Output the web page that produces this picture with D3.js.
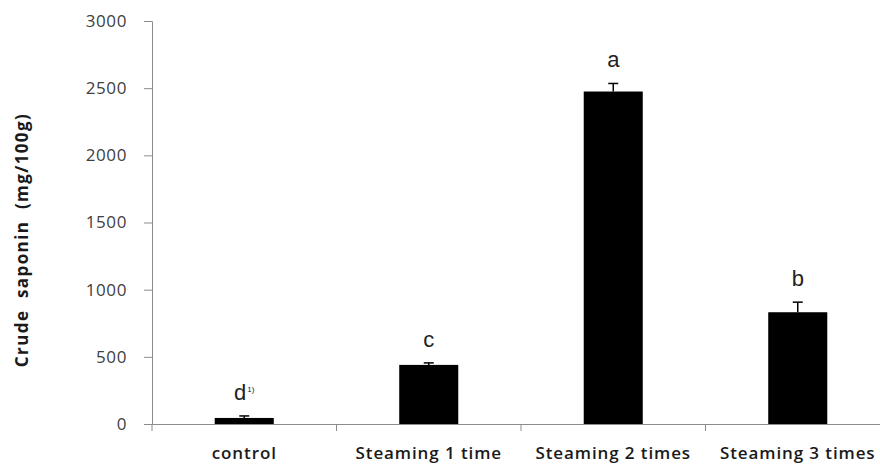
<!DOCTYPE html>
<html>
<head>
<meta charset="utf-8">
<script src="https://cdn.jsdelivr.net/npm/d3@7"></script>
<style>
  body { margin: 0; background: #fff; }
  svg { display: block; }
</style>
</head>
<body>
<div id="chart"></div>
<script>
var categories = ['control', 'Steaming 1 time', 'Steaming 2 times', 'Steaming 3 times'];
var means = [45, 440, 2475, 832];
var errors = [15, 15, 60, 75];
var letters = ['d', 'c', 'a', 'b'];
var yTicks = [0, 500, 1000, 1500, 2000, 2500, 3000];

var width = 880, height = 466;
var svg = d3.select('#chart').append('svg')
    .attr('width', width)
    .attr('height', height);

var x = d3.scaleBand()
    .domain(categories)
    .range([152, 890])
    .paddingInner(0.68)
    .paddingOuter(0.34);

var y = d3.scaleLinear()
    .domain([0, 3000])
    .range([424, 21]);

// y axis
var yAxis = svg.append('g')
    .attr('transform', 'translate(152,0)')
    .call(d3.axisLeft(y).tickValues(yTicks).tickSize(8).tickPadding(17).tickFormat(d3.format('d')));
yAxis.select('.domain').attr('stroke', '#8c8c8c');
yAxis.selectAll('.tick line').attr('stroke', '#8c8c8c');
yAxis.selectAll('.tick text')
    .attr('fill', '#404040')
    .style('font-family', '"Open Sans", "Liberation Sans", sans-serif')
    .style('font-size', '17px')
    .style('letter-spacing', '0.6px');

// x axis
var xAxis = svg.append('g')
    .attr('transform', 'translate(0,424)')
    .call(d3.axisBottom(x).tickSize(0).tickPadding(23));
xAxis.select('.domain').attr('stroke', '#8c8c8c');
xAxis.selectAll('.tick text')
    .attr('fill', '#1a1a1a')
    .style('font-family', '"Open Sans", "Liberation Sans", sans-serif')
    .style('font-weight', '600')
    .style('font-size', '17px')
    .style('letter-spacing', '0.9px');

// boundary ticks between categories
var step = x.step();
var bounds = categories.map(function(d) { return x(d) - (step - x.bandwidth()) / 2; });
svg.append('g').selectAll('line')
    .data(bounds)
    .enter().append('line')
    .attr('x1', function(d) { return d; })
    .attr('x2', function(d) { return d; })
    .attr('y1', 424)
    .attr('y2', 431)
    .attr('stroke', '#8c8c8c');

// bars
svg.append('g').selectAll('rect')
    .data(categories)
    .enter().append('rect')
    .attr('x', function(d) { return x(d); })
    .attr('width', x.bandwidth())
    .attr('y', function(d, i) { return y(means[i]); })
    .attr('height', function(d, i) { return y(0) - y(means[i]); })
    .attr('fill', '#000');

// error bars (upper only)
var eb = svg.append('g').attr('stroke', '#000').attr('stroke-width', 1.5);
categories.forEach(function(d, i) {
    var cx = x(d) + x.bandwidth() / 2;
    eb.append('line')
        .attr('x1', cx).attr('x2', cx)
        .attr('y1', y(means[i])).attr('y2', y(means[i] + errors[i]));
    eb.append('line')
        .attr('x1', cx - 5).attr('x2', cx + 5)
        .attr('y1', y(means[i] + errors[i])).attr('y2', y(means[i] + errors[i]));
});

// significance letters
var lab = svg.append('g')
    .style('font-family', '"Liberation Sans", Arial, sans-serif')
    .attr('fill', '#222');
categories.forEach(function(d, i) {
    var cx = x(d) + x.bandwidth() / 2;
    var t = lab.append('text')
        .attr('x', cx)
        .attr('y', y(means[i] + errors[i]) - 16)
        .attr('text-anchor', 'middle')
        .style('font-size', '22px')
        .text(letters[i]);
    if (i === 0) {
        t.append('tspan')
            .attr('dx', 1)
            .attr('dy', -8)
            .style('font-size', '8px')
            .text('1)');
    }
});

// y title
svg.append('text')
    .attr('transform', 'translate(28,240) rotate(-90)')
    .attr('text-anchor', 'middle')
    .attr('fill', '#1a1a1a')
    .style('font-family', '"Open Sans", "Liberation Sans", sans-serif')
    .style('font-weight', '700')
    .style('font-size', '17px')
    .style('letter-spacing', '1.4px')
    .style('white-space', 'pre')
    .text('Crude  saponin  (mg/100g)');
</script>
</body>
</html>
